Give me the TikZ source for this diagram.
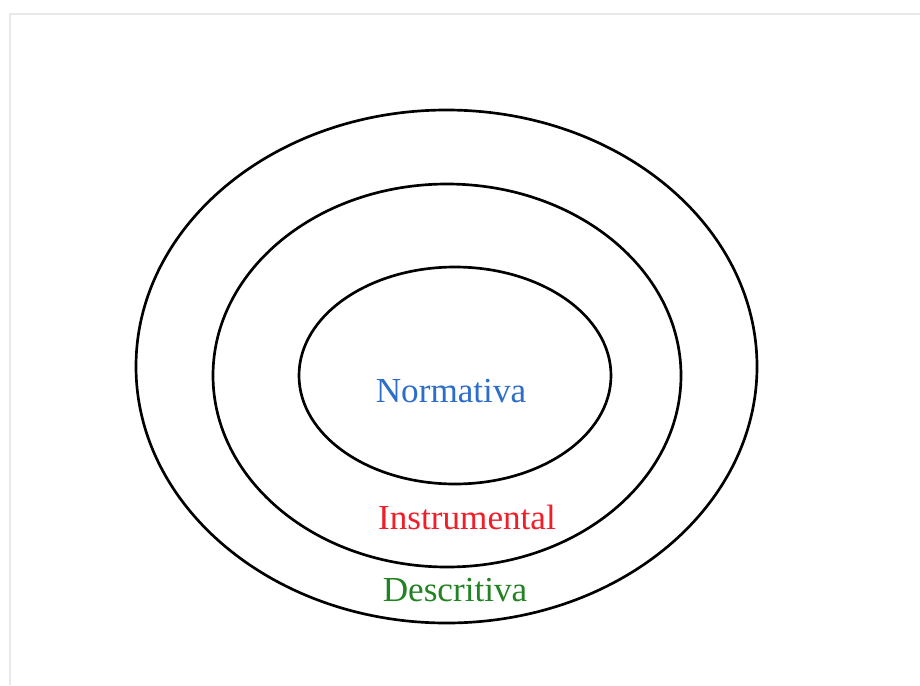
\documentclass[tikz,border=0pt]{standalone}
\usepackage{fontspec}
\setmainfont{Liberation Serif}
\usepackage{tikz}
\usetikzlibrary{positioning}
\definecolor{normblue}{RGB}{45,110,200}
\definecolor{instred}{RGB}{240,30,40}
\definecolor{descgreen}{RGB}{35,130,35}
\definecolor{framegray}{RGB}{232,232,232}
\tikzset{
    ringline/.style={draw=black, line width=1.9pt},
    ringtext/.style={font=\fontsize{25}{28}\selectfont, text=#1, inner sep=0pt}
}

\begin{document}
\begin{tikzpicture}[x=0.025cm, y=-0.025cm]

\useasboundingbox (0,0) rectangle (920,685);
\draw[framegray, line width=1.5pt] (10,685) -- (10,14) -- (920,14);

\draw[ringline] (446.5,366.5) ellipse [x radius=310.5, y radius=256.5];
\draw[ringline] (447,375.5) ellipse [x radius=234, y radius=191.5];
\draw[ringline] (455,375.5) ellipse [x radius=156, y radius=108.5];

\node[ringtext=normblue] (norm) at (451,391) {Normativa};
\node[ringtext=instred] (inst) at (467,517) {Instrumental};
\node[ringtext=descgreen] (desc) at (455,590) {Descritiva};

\end{tikzpicture}
\end{document}
